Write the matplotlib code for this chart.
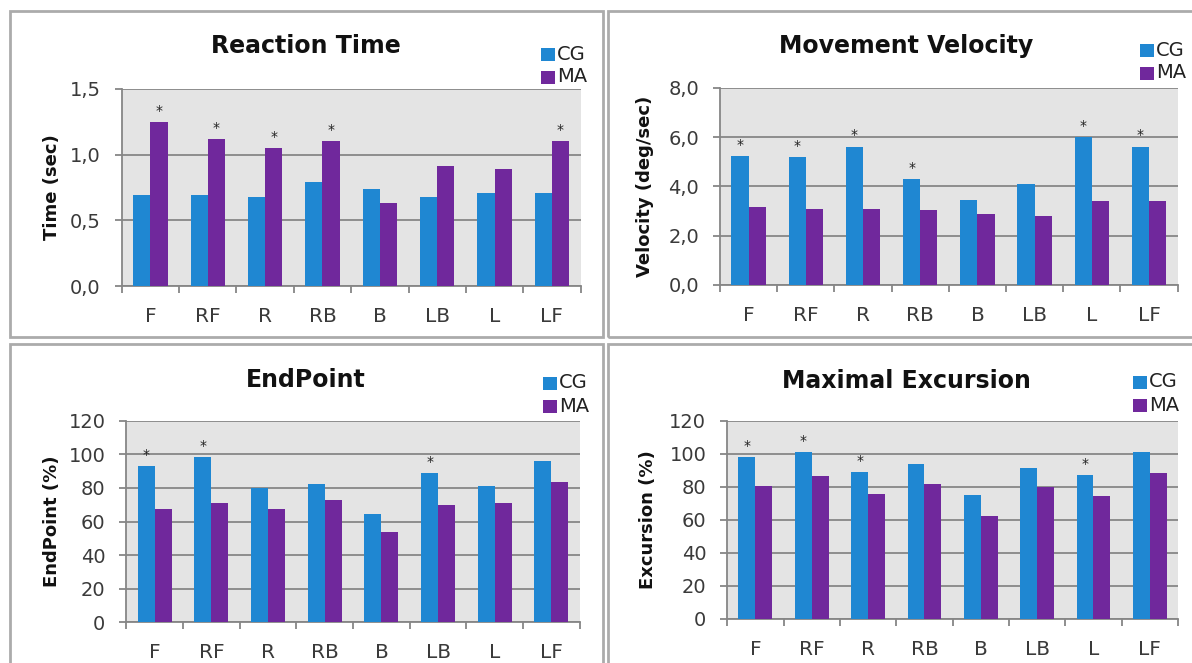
import matplotlib
matplotlib.use("Agg")
import matplotlib.pyplot as plt
from matplotlib.patches import Rectangle
from matplotlib.ticker import FuncFormatter
import numpy as np

categories = ["F", "RF", "R", "RB", "B", "LB", "L", "LF"]

rt_cg = [0.69, 0.69, 0.675, 0.79, 0.74, 0.675, 0.705, 0.705]
rt_ma = [1.25, 1.12, 1.05, 1.105, 0.635, 0.915, 0.89, 1.105]
rt_sig = ["MA", "MA", "MA", "MA", None, None, None, "MA"]

mv_cg = [5.24, 5.18, 5.61, 4.31, 3.45, 4.11, 6.01, 5.61]
mv_ma = [3.18, 3.09, 3.09, 3.04, 2.88, 2.80, 3.39, 3.39]
mv_sig = ["CG", "CG", "CG", "CG", None, None, "CG", "CG"]

ep_cg = [93.0, 98.2, 80.2, 82.5, 64.7, 88.6, 81.3, 96.0]
ep_ma = [67.7, 70.8, 67.7, 73.0, 54.0, 69.8, 70.8, 83.3]
ep_sig = ["CG", "CG", None, None, None, "CG", None, None]

ex_cg = [97.8, 100.8, 89.1, 93.5, 75.2, 91.5, 87.1, 100.8]
ex_ma = [80.6, 86.3, 75.4, 81.8, 62.4, 79.8, 74.1, 88.1]
ex_sig = ["CG", "CG", "CG", None, None, None, "CG", None]

BLUE = "#1f87d2"
PURPLE = "#70289c"
BG = "#e4e4e4"
GRID = "#868686"

W, H = 1192, 663
fig = plt.figure(figsize=(W / 100, H / 100), dpi=100)
fig.patch.set_facecolor("white")

plt.rcParams["font.family"] = ["DejaVu Sans"]


def px_axes(x0, x1, ytop, ybot):
    return fig.add_axes([x0 / W, 1 - ybot / H, (x1 - x0) / W, (ybot - ytop) / H])


def box(x0, y0, x1, y1):
    fig.patches.append(Rectangle((x0 / W, 1 - y1 / H), (x1 - x0) / W, (y1 - y0) / H,
                                 transform=fig.transFigure, fill=False,
                                 edgecolor="#ababab", linewidth=2.0))


panels = [
    dict(title="Reaction Time", ylabel="Time (sec)", cg=rt_cg, ma=rt_ma, sig=rt_sig,
         ymax=1.5, step=0.5, dec=1, ax=(121.7, 580.6, 89, 286), box=(10, 11, 603, 337),
         title_xy=(306, 46), ylab_x=52, leg=(541, 54)),
    dict(title="Movement Velocity", ylabel="Velocity (deg/sec)", cg=mv_cg, ma=mv_ma, sig=mv_sig,
         ymax=8.0, step=2.0, dec=1, ax=(720, 1177.6, 87.7, 285), box=(608, 11, 1197, 337),
         title_xy=(906, 46), ylab_x=645, leg=(1140, 50)),
    dict(title="EndPoint", ylabel="EndPoint (%)", cg=ep_cg, ma=ep_ma, sig=ep_sig,
         ymax=120, step=20, dec=0, ax=(126.3, 579.8, 420.7, 622.3), box=(10, 344, 603, 668),
         title_xy=(306, 380), ylab_x=52, leg=(543, 383)),
    dict(title="Maximal Excursion", ylabel="Excursion (%)", cg=ex_cg, ma=ex_ma, sig=ex_sig,
         ymax=120, step=20, dec=0, ax=(727.2, 1178, 420.7, 618.7), box=(608, 344, 1197, 668),
         title_xy=(906, 381), ylab_x=648, leg=(1133, 382)),
]

x = np.arange(len(categories))
bw = 0.3

for p in panels:
    box(*p["box"])
    ax = px_axes(*p["ax"])
    ax.set_facecolor(BG)
    ax.set_xlim(-0.5, len(categories) - 0.5)
    ax.set_ylim(0, p["ymax"])
    yt = np.arange(0, p["ymax"] + p["step"] / 2, p["step"])
    ax.set_yticks(yt)
    dec = p["dec"]
    ax.yaxis.set_major_formatter(FuncFormatter(
        lambda v, pos, d=dec: (f"{v:.{d}f}").replace(".", ",")))
    ax.grid(axis="y", color=GRID, linewidth=1.3)
    ax.set_axisbelow(True)
    ax.bar(x - bw / 2, p["cg"], width=bw, color=BLUE, zorder=3)
    ax.bar(x + bw / 2, p["ma"], width=bw, color=PURPLE, zorder=3)
    for i, s in enumerate(p["sig"]):
        if s is None:
            continue
        xi = x[i] - bw / 2 if s == "CG" else x[i] + bw / 2
        yi = p["cg"][i] if s == "CG" else p["ma"][i]
        ax.annotate("*", (xi, yi), xytext=(0, 3), textcoords="offset points",
                    ha="center", va="bottom", fontsize=10, color="#222222")
    for side in ["top", "right"]:
        ax.spines[side].set_visible(False)
    for side in ["left", "bottom"]:
        ax.spines[side].set_color(GRID)
        ax.spines[side].set_linewidth(1.3)
    ax.set_xticks(x)
    ax.set_xticklabels(categories)
    ax.set_xticks(np.arange(-0.5, len(categories)), minor=True)
    ax.tick_params(axis="x", which="major", length=0, pad=15, labelsize=14.5,
                   labelcolor="#3a3a3a")
    ax.tick_params(axis="x", which="minor", length=5, color=GRID, width=1.3, direction="out")
    ax.tick_params(axis="y", length=5, color=GRID, width=1.3, pad=10, labelsize=14,
                   labelcolor="#3a3a3a")
    fig.text(p["title_xy"][0] / W, 1 - p["title_xy"][1] / H, p["title"], ha="center",
             va="center", fontsize=17, fontweight="bold", color="#111111")
    yc = (p["ax"][2] + p["ax"][3]) / 2
    fig.text(p["ylab_x"] / W, 1 - yc / H, p["ylabel"], ha="center", va="center",
             rotation=90, fontsize=13, fontweight="bold", color="#111111")
    lx, ly = p["leg"]
    for k, (lab, col) in enumerate([("CG", BLUE), ("MA", PURPLE)]):
        yy = ly + k * 23
        fig.patches.append(Rectangle((lx / W, 1 - (yy + 7) / H), 14 / W, 13 / H,
                                     transform=fig.transFigure, facecolor=col,
                                     edgecolor="none"))
        fig.text((lx + 16) / W, 1 - yy / H, lab, ha="left", va="center", fontsize=14,
                 color="#222222")

fig.savefig("out.png", dpi=100)
